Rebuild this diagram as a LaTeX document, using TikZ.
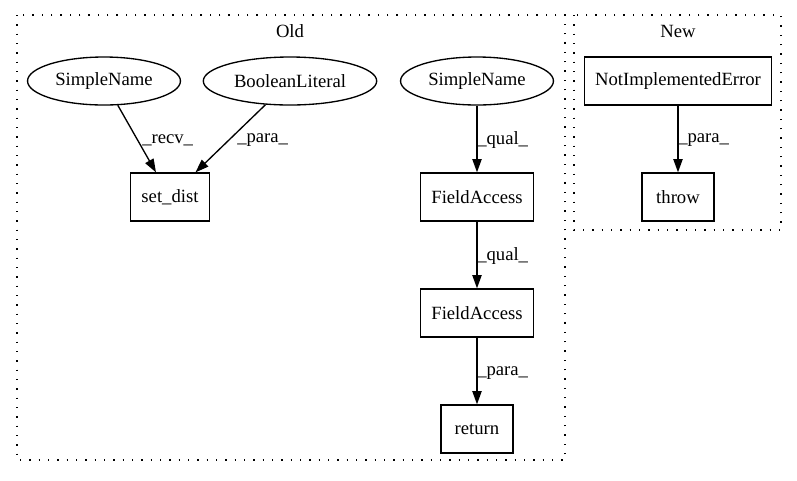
\documentclass[tikz,border=0pt]{standalone}
\usepackage{fontspec}
\setmainfont{Liberation Serif}
\usetikzlibrary{shapes.geometric,arrows.meta}

\begin{document}
\begin{tikzpicture}[x=0.75pt,y=-0.75pt]
\tikzstyle{every node}+=[font=\fontsize{14}{16}\selectfont]
\tikzstyle{box}=[draw,line width=1pt,rectangle,minimum width=54pt,minimum height=36pt,inner xsep=8pt]
\tikzstyle{oval}=[draw,line width=1pt,ellipse,minimum height=36pt,inner xsep=4pt]
\tikzstyle{edge}=[line width=1pt,-{Triangle[length=10pt,width=7pt]}]
\tikzstyle{lbl}=[inner sep=0pt,anchor=west]
\tikzstyle{clus}=[line width=1pt,dash pattern=on 1pt off 6pt]
\useasboundingbox (0,0) rectangle (797,480);
% clusters
\draw [clus] (17,15) rectangle (565,460);
\draw [clus] (574,15) rectangle (781,230);
\node (old) at (290,31) {Old};
\node (new) at (678,31) {New};
% old
\node [oval] (name1) at (104,81) {SimpleName};
\node [oval] (bool) at (290,81) {BooleanLiteral};
\node [oval] (name2) at (477,81) {SimpleName};
\node [box] (setdist) at (170,197) {set\_dist};
\node [box] (field1) at (477,197) {FieldAccess};
\node [box] (field2) at (477,313) {FieldAccess};
\node [box] (ret) at (477,429) {return};
% new
\node [box] (error) at (678,81) {NotImplementedError};
\node [box] (throw) at (678,197) {throw};
% edges
\draw [edge] (name1) -- (setdist);
\draw [edge] (bool) -- (setdist);
\draw [edge] (name2) -- (field1);
\draw [edge] (field1) -- (field2);
\draw [edge] (field2) -- (ret);
\draw [edge] (error) -- (throw);
\node [lbl] (recv) at (142,140) {\_recv\_};
\node [lbl] (para1) at (237,140) {\_para\_};
\node [lbl] (qual1) at (477,140) {\_qual\_};
\node [lbl] (qual2) at (477,256) {\_qual\_};
\node [lbl] (para2) at (477,373) {\_para\_};
\node [lbl] (para3) at (678,140) {\_para\_};
\end{tikzpicture}
\end{document}
